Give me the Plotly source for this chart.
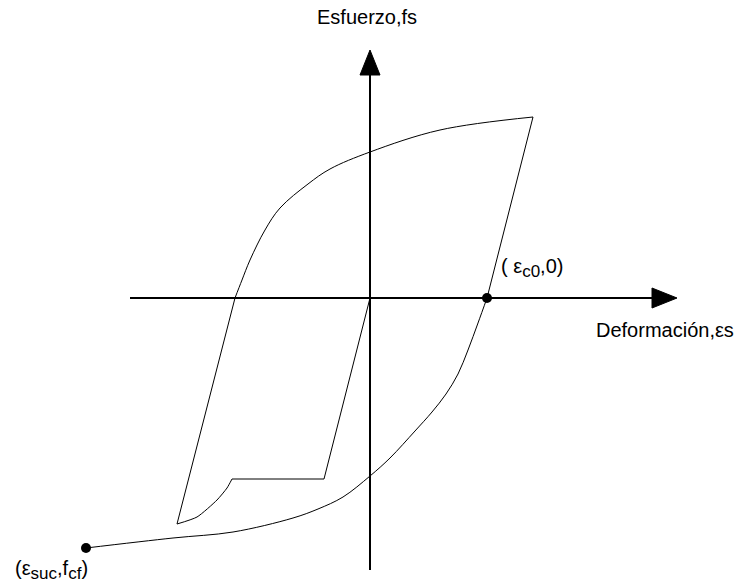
import plotly.graph_objects as go

# Hysteresis loop of stress (fs) versus strain (εs), schematic units
# Loading envelope up to the peak, from the left zero crossing
upper_x = [-1.35, -1.28, -1.20, -1.05, -0.90, -0.62, -0.40, 0.00, 0.70, 1.63]
upper_y = [0.00, 0.18, 0.38, 0.68, 0.90, 1.14, 1.29, 1.46, 1.68, 1.81]

# Straight unloading from the peak down to (εc0, 0)
unload_x = [1.63, 1.17]
unload_y = [1.81, 0.00]

# Reverse branch from (εc0, 0) to (εsuc, fcf)
lower_x = [1.17, 1.08, 0.98, 0.88, 0.76, 0.62, 0.45, 0.20, 0.00, -0.27, -0.52,
           -0.77, -1.37, -1.97, -2.84]
lower_y = [0.00, -0.25, -0.52, -0.76, -0.96, -1.14, -1.33, -1.60, -1.78, -1.99, -2.11,
           -2.20, -2.34, -2.40, -2.50]

# Inner loop: straight drop, short curve, plateau, straight reload to origin
drop_x = [-1.35, -1.93]
drop_y = [0.00, -2.26]
hook_x = [-1.93, -1.73, -1.53, -1.43, -1.38]
hook_y = [-2.26, -2.19, -2.02, -1.90, -1.81]
plateau_x = [-1.38, -0.46, 0.00]
plateau_y = [-1.81, -1.81, 0.00]

# Marked points
pts_x = [1.17, -2.84]
pts_y = [0.00, -2.50]

# Axes extents
xaxis_line = [-2.40, 2.82]
yaxis_line = [-2.72, 2.23]
arrow_len = 0.25
arrow_half = 0.10

fig = go.Figure()

line_style = dict(color="black", width=1)

fig.add_trace(go.Scatter(x=upper_x, y=upper_y, mode="lines",
                         line=dict(shape="spline", smoothing=1.0, **line_style)))
fig.add_trace(go.Scatter(x=unload_x, y=unload_y, mode="lines", line=line_style))
fig.add_trace(go.Scatter(x=lower_x, y=lower_y, mode="lines",
                         line=dict(shape="spline", smoothing=1.0, **line_style)))
fig.add_trace(go.Scatter(x=drop_x, y=drop_y, mode="lines", line=line_style))
fig.add_trace(go.Scatter(x=hook_x, y=hook_y, mode="lines",
                         line=dict(shape="spline", smoothing=0.6, **line_style)))
fig.add_trace(go.Scatter(x=plateau_x, y=plateau_y, mode="lines", line=line_style))

# Coordinate axes with filled arrowheads
axis_style = dict(color="black", width=2)
fig.add_trace(go.Scatter(x=xaxis_line, y=[0, 0], mode="lines", line=axis_style))
fig.add_trace(go.Scatter(x=[0, 0], y=yaxis_line, mode="lines", line=axis_style))
xe = xaxis_line[1]
ye = yaxis_line[1]
fig.add_trace(go.Scatter(
    x=[xe, xe + arrow_len, xe, xe], y=[arrow_half, 0, -arrow_half, arrow_half],
    mode="lines", fill="toself", fillcolor="black", line=dict(color="black", width=1)))
fig.add_trace(go.Scatter(
    x=[-arrow_half, 0, arrow_half, -arrow_half], y=[ye, ye + arrow_len, ye, ye],
    mode="lines", fill="toself", fillcolor="black", line=dict(color="black", width=1)))

fig.add_trace(go.Scatter(x=pts_x, y=pts_y, mode="markers",
                         marker=dict(color="black", size=10)))

font = dict(family="Liberation Sans, Arial, sans-serif", size=20, color="black")
sub = "<sub><span style='font-size:17px'>{}</span></sub>"
annotations = [
    dict(x=-0.03, y=2.81, text="Esfuerzo,fs"),
    dict(x=2.95, y=-0.32, text="Deformación,εs"),
    dict(x=1.62, y=0.30, text="( ε" + sub.format("c0") + ",0)"),
    dict(x=-3.19, y=-2.72, text="(ε" + sub.format("suc") + ",f" + sub.format("cf") + ")"),
]
for a in annotations:
    fig.add_annotation(xref="x", yref="y", showarrow=False, font=font, **a)

fig.update_layout(
    width=737, height=586,
    margin=dict(l=0, r=0, t=0, b=0),
    paper_bgcolor="white", plot_bgcolor="white",
    showlegend=False,
    xaxis=dict(range=[-3.70, 3.67], visible=False, fixedrange=True),
    yaxis=dict(range=[-2.88, 2.98], visible=False, fixedrange=True),
)

fig.write_html("out.html")
